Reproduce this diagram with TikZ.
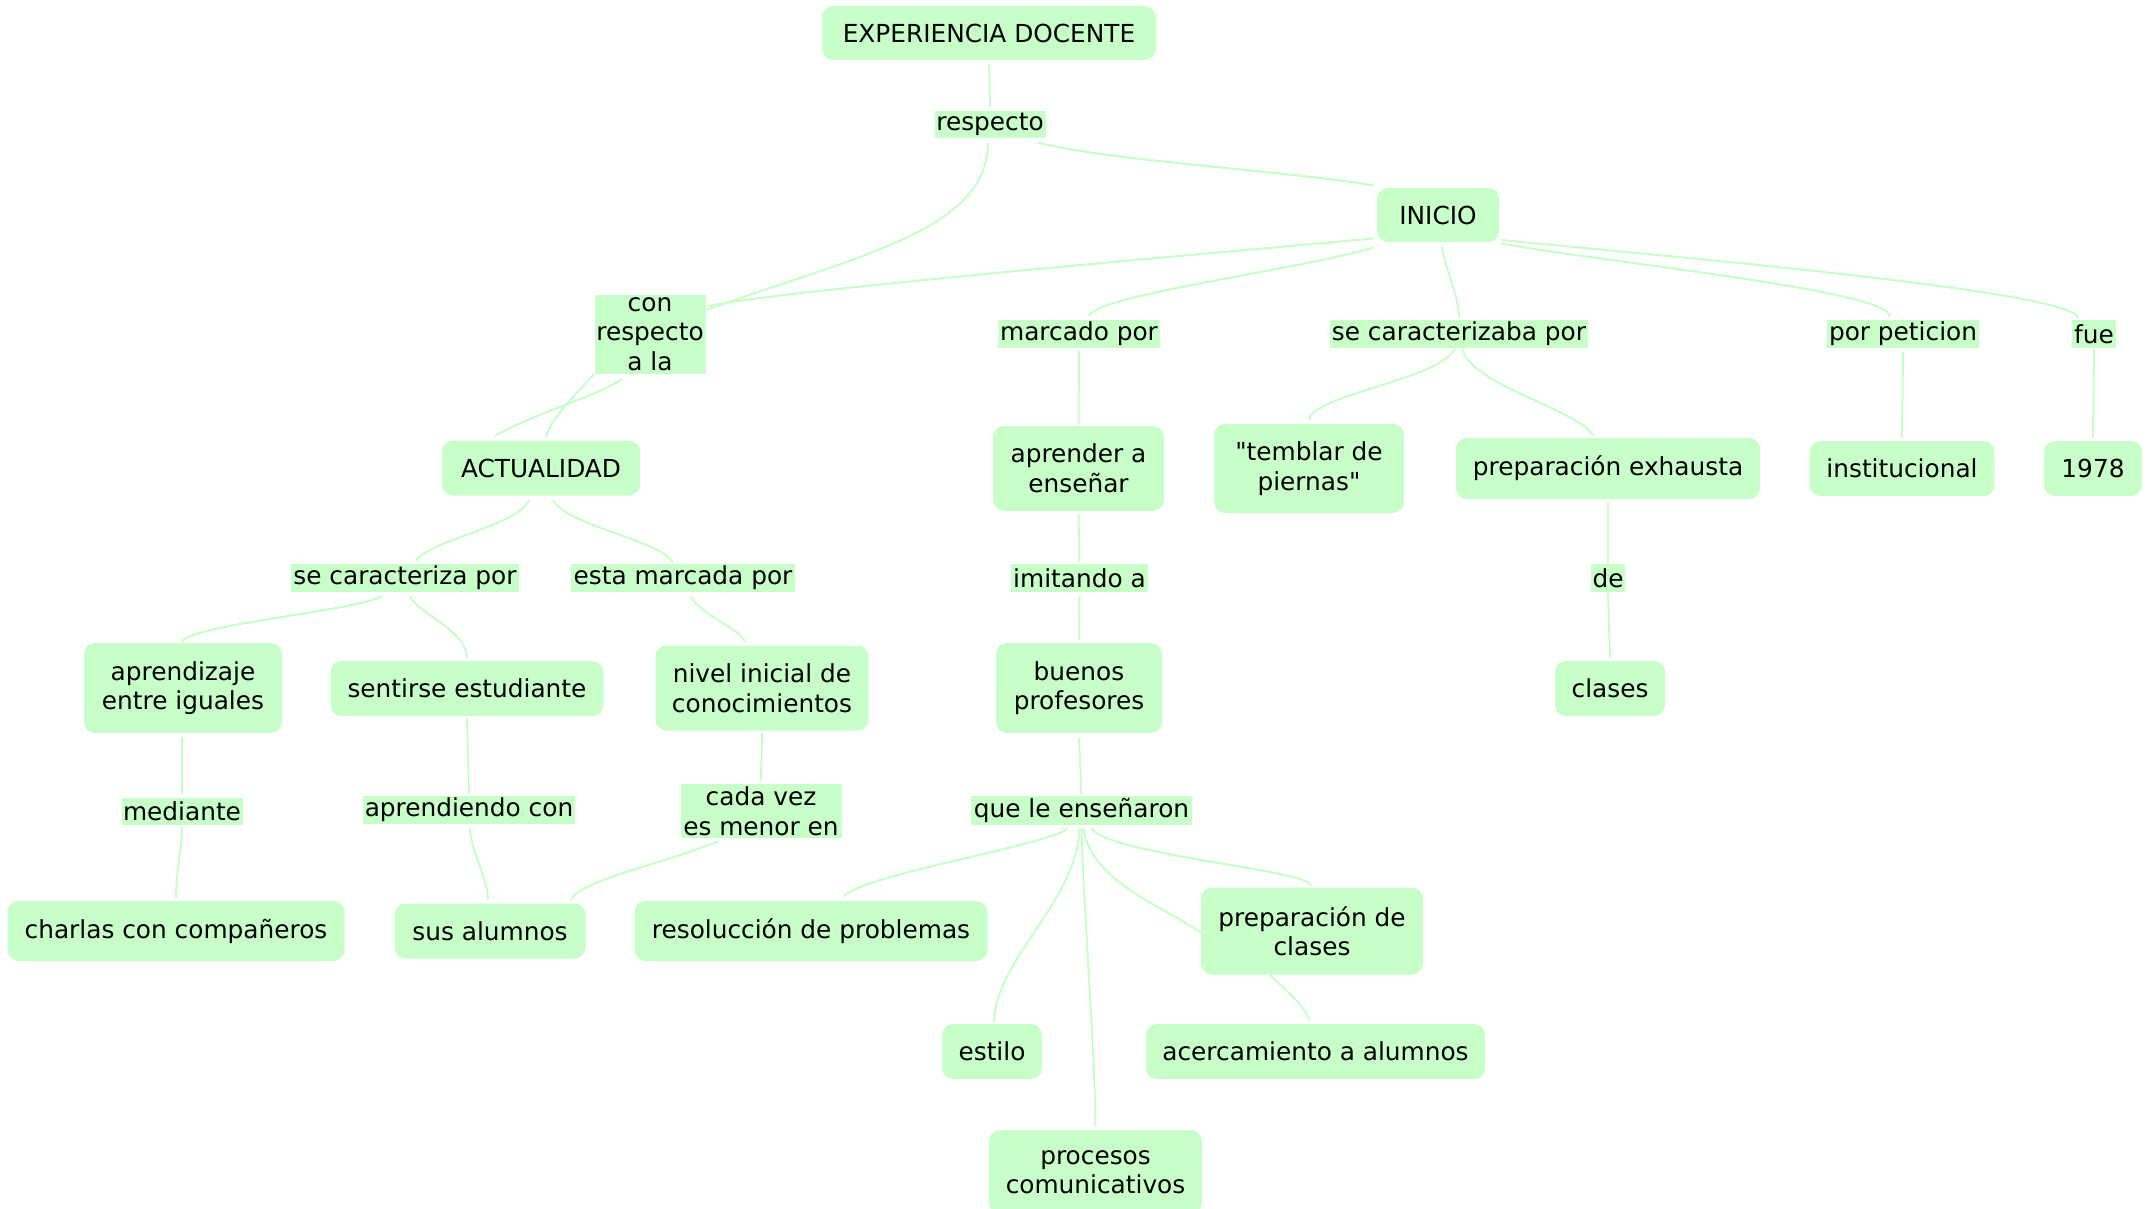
\documentclass[tikz,border=0pt]{standalone}
\usepackage{fontspec}
\setmainfont{DejaVu Sans}[Ligatures=TeXOff]
\usetikzlibrary{calc}
\definecolor{cmapgreen}{RGB}{200,255,200}
\begin{document}
\begin{tikzpicture}[x=0.5pt,y=-0.5pt,
  every node/.style={font=\fontsize{12.4}{14.75}\selectfont, text=black, inner sep=0pt, align=center},
  sz/.style 2 args={minimum width=#1*0.5pt, minimum height=#2*0.5pt},
  concept/.style={fill=cmapgreen, rounded corners=5.5pt},
  linkph/.style={fill=cmapgreen},
  conn/.style={draw=cmapgreen, line width=1pt}]
\path[use as bounding box, fill=white] (0,0) rectangle (2151,1209);

% concepts
\node[concept, sz={334}{54}] (exp) at (989,33) {EXPERIENCIA DOCENTE};
\node[concept, sz={122}{54}] (inicio) at (1438,215) {INICIO};
\node[concept, sz={198}{55}] (actual) at (541,468) {ACTUALIDAD};
\node[concept, sz={198}{90}] (aprend) at (183,688) {aprendizaje\\entre iguales};
\node[concept, sz={273}{55}] (sentir) at (467,688.5) {sentirse estudiante};
\node[concept, sz={213}{85}] (nivel) at (762,688) {nivel inicial de\\conocimientos};
\node[concept, sz={337}{60}] (charlas) at (176,931) {charlas con compañeros};
\node[concept, sz={191}{55}] (sus) at (490,931) {sus alumnos};
\node[concept, sz={353}{60}] (resol) at (811,931) {resolucción de problemas};
\node[concept, sz={171}{85}] (aprenda) at (1078.5,468.5) {aprender a\\enseñar};
\node[concept, sz={190}{89}] (temblar) at (1309,468.5) {"temblar de\\piernas"};
\node[concept, sz={304}{61}] (prepex) at (1608,468.5) {preparación exhausta};
\node[concept, sz={185}{55}] (inst) at (1902,468.5) {institucional};
\node[concept, sz={98}{55}] (y1978) at (2093,468.5) {1978};
\node[concept, sz={110}{55}] (clases) at (1610,688.5) {clases};
\node[concept, sz={166}{90}] (buenos) at (1079,688) {buenos\\profesores};
\node[concept, sz={222}{87}] (prepcl) at (1312,931) {preparación de\\clases};
\node[concept, sz={100}{55}] (estilo) at (992,1051.5) {estilo};
\node[concept, sz={339}{55}] (acerc) at (1315.5,1051.5) {acercamiento a alumnos};
\node[concept, sz={213}{84}] (procesos) at (1095.5,1172) {procesos\\comunicativos};

% linking phrases
\node[linkph, sz={111}{27}] (resp) at (990,124.5) {respecto};
\node[linkph, sz={111}{79}] (conresp) at (650,334) {con\\respecto\\a la};
\node[linkph, sz={228}{28}] (secar) at (405,578) {se caracteriza por};
\node[linkph, sz={224}{28}] (estam) at (683,578) {esta marcada por};
\node[linkph, sz={121}{27}] (mediante) at (182,811) {mediante};
\node[linkph, sz={212}{28}] (aprcon) at (469,810) {aprendiendo con};
\node[linkph, sz={161}{54}] (cadavez) at (761,811) {cada vez\\es menor en};
\node[linkph, sz={162}{28}] (marcado) at (1079,333.5) {marcado por};
\node[linkph, sz={258}{28}] (secarzb) at (1459,334) {se caracterizaba por};
\node[linkph, sz={152}{28}] (porpet) at (1903,334) {por peticion};
\node[linkph, sz={44}{28}] (fue) at (2094,334) {fue};
\node[linkph, sz={137}{28}] (imitando) at (1079.5,578) {imitando a};
\node[linkph, sz={34}{28}] (de) at (1608,578) {de};
\node[linkph, sz={221}{29}] (quele) at (1081.5,810.5) {que le enseñaron};

% connectors
\draw[conn] ($(exp.south)+(0,4)$) -- ($(resp.north)+(0,-4)$);
\draw[conn] ($(resp.south east)+(-8,4)$) .. controls (1100,160) and (1300,172) .. ($(inicio.north west)+(-3,-2)$);
\draw[conn] ($(resp.south)+(-2,4)$) .. controls (988,230) and (860,255) .. ($(conresp.north east)+(0,16)$);
\draw[conn] ($(inicio.south west)+(-3,-4)$) .. controls (1250,250) and (780,290) .. ($(conresp.north east)+(3,12)$);
\draw[conn] (conresp.south west) .. controls (575,395) and (550,420) .. ($(actual.north)+(5,-3)$);
\draw[conn] ($(conresp.south)+(-28,5)$) .. controls (600,395) and (530,415) .. ($(actual.north)+(-46,-4)$);
\draw[conn] ($(actual.south)+(-12,4)$) .. controls (520,525) and (430,540) .. ($(secar.north)+(11,-3)$);
\draw[conn] ($(actual.south)+(12,4)$) .. controls (565,525) and (660,540) .. ($(estam.north)+(-10,-1)$);
\draw[conn] ($(secar.south)+(-23,4)$) .. controls (350,612) and (185,625) .. ($(aprend.north)+(-1,0)$);
\draw[conn] ($(secar.south)+(5,4)$) .. controls (420,615) and (466,630) .. ($(sentir.north)+(0,-3)$);
\draw[conn] ($(estam.south)+(8,4)$) .. controls (700,615) and (740,628) .. ($(nivel.north)+(-17,-3)$);
\draw[conn] ($(aprend.south)+(-1,4)$) -- ($(mediante.north)+(0,-3)$);
\draw[conn] ($(mediante.south)+(0,2)$) .. controls (182,850) and (176,870) .. ($(charlas.north)+(0,-2)$);
\draw[conn] ($(sentir.south)+(0,2)$) -- ($(aprcon.north)+(0,-2)$);
\draw[conn] ($(aprcon.south)+(1,3)$) .. controls (470,850) and (487,875) .. ($(sus.north)+(-2,-3)$);
\draw[conn] ($(nivel.south)+(0,2)$) -- ($(cadavez.north)+(0,-3)$);
\draw[conn] ($(cadavez.south)+(-43,3)$) .. controls (660,865) and (580,880) .. ($(sus.north east)+(-15,-3)$);
\draw[conn] ($(inicio.south west)+(-3,5)$) .. controls (1300,270) and (1095,295) .. ($(marcado.north)+(10,-3)$);
\draw[conn] ($(inicio.south)+(4,4)$) .. controls (1445,270) and (1459,295) .. ($(secarzb.north)+(0,-2)$);
\draw[conn] ($(inicio.south east)+(2,1)$) .. controls (1600,262) and (1890,290) .. ($(porpet.north)+(-13,-3)$);
\draw[conn] ($(inicio.east)+(2,25)$) .. controls (1650,255) and (2070,290) .. ($(fue.north)+(-16,-2)$);
\draw[conn] ($(marcado.south)+(0,3)$) -- ($(aprenda.north)+(0,-1)$);
\draw[conn] ($(secarzb.south)+(-4,0)$) .. controls (1440,380) and (1310,395) .. ($(temblar.north)+(0,-3)$);
\draw[conn] ($(secarzb.south)+(3,0)$) .. controls (1470,385) and (1580,410) .. ($(prepex.north)+(-15,-2)$);
\draw[conn] ($(porpet.south)+(0,3)$) -- ($(inst.north)+(0,-3)$);
\draw[conn] ($(fue.south)+(0,1)$) -- ($(y1978.north)+(0,-3)$);
\draw[conn] ($(aprenda.south)+(0,3)$) -- ($(imitando.north)+(0,-1)$);
\draw[conn] ($(prepex.south)+(0,3)$) -- ($(de.north)+(0,-1)$);
\draw[conn] (de.south) -- ($(clases.north)+(0,-3)$);
\draw[conn] ($(imitando.south)+(0,3)$) -- ($(buenos.north)+(0,-3)$);
\draw[conn] ($(buenos.south)+(0,5)$) -- ($(quele.north)+(0,-1)$);
\draw[conn] ($(quele.south)+(-14,3)$) .. controls (1050,845) and (860,875) .. ($(resol.north)+(33,-4)$);
\draw[conn] ($(quele.south)+(-2,3)$) .. controls (1078,900) and (995,960) .. ($(estilo.north)+(2,-2)$);
\draw[conn] ($(quele.south)+(0,3)$) .. controls (1083,900) and (1095,1050) .. ($(procesos.north)+(0,-3)$);
\draw[conn] ($(quele.south)+(2,3)$) .. controls (1090,880) and (1160,905) .. ($(prepcl.west)+(0,1.5)$);
\draw[conn] ($(quele.south)+(10,3)$) .. controls (1110,855) and (1310,870) .. ($(prepcl.north)+(-1,-1.5)$);
\draw[conn] ($(prepcl.south)+(-42,0)$) .. controls (1285,990) and (1305,1005) .. ($(acerc.north)+(-6,-3)$);
\end{tikzpicture}
\end{document}
